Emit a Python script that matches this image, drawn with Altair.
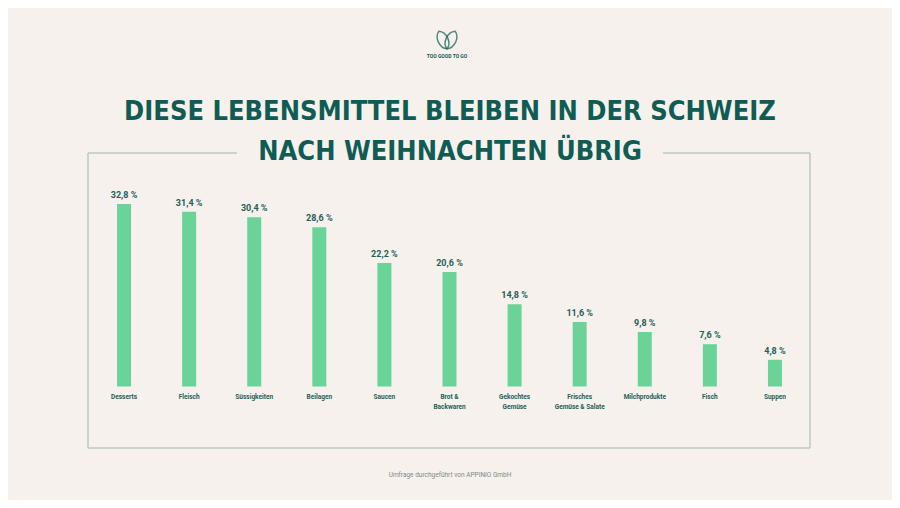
import altair as alt
import pandas as pd

categories = ["Desserts", "Fleisch", "Süssigkeiten", "Beilagen", "Saucen", "Brot &\nBackwaren",
              "Gekochtes\nGemüse", "Frisches\nGemüse & Salate", "Milchprodukte", "Fisch", "Suppen"]
values = [32.8, 31.4, 30.4, 28.6, 22.2, 20.6, 14.8, 11.6, 9.8, 7.6, 4.8]
value_labels = ["32,8 %", "31,4 %", "30,4 %", "28,6 %", "22,2 %", "20,6 %", "14,8 %", "11,6 %", "9,8 %", "7,6 %", "4,8 %"]
title_lines = ["DIESE LEBENSMITTEL BLEIBEN IN DER SCHWEIZ", "NACH WEIHNACHTEN ÜBRIG"]
source = "Umfrage durchgeführt von APPINIO GmbH"
logo_text = "TOO GOOD TO GO"

BG = "#f6f1ec"
TEAL = "#0f5c55"
LABEL = "#24605a"
GREEN = "#6cd398"
FRAME = "#bcc8c3"
W, H = 884, 492
OFF = 8  # page margin
TITLE_FONT = "'DejaVu Sans Condensed', 'Roboto Condensed', 'Liberation Sans Narrow', Roboto, sans-serif"

df = pd.DataFrame({"cat": categories, "val": values, "lab": value_labels})

xs = alt.X("cat:N", sort=categories, axis=None,
           scale=alt.Scale(domain=categories, range=[91.5 - OFF, 807.5 - OFF], paddingInner=0, paddingOuter=0))
ys = alt.Y("val:Q", axis=None, scale=alt.Scale(domain=[0, 32.8], range=[386.5 - OFF, 204 - OFF], nice=False, zero=True))

bars = alt.Chart(df).mark_bar(color=GREEN, size=14).encode(x=xs, y=ys)
vlabels = alt.Chart(df).mark_text(font="Roboto", fontWeight="bold", fontSize=9, color=LABEL, dy=-9).encode(
    x=xs, y=ys, text="lab:N")
clabels = alt.Chart(df).mark_text(font="Roboto", fontWeight="bold", fontSize=6.5, color=LABEL,
                                  baseline="top", lineBreak="\n", lineHeight=10).encode(
    x=xs, y=alt.value(393.5 - OFF), text="cat:N")

tdf = pd.DataFrame({"t": title_lines, "i": [0, 1]})
title = alt.Chart(tdf).mark_text(font=TITLE_FONT, fontWeight="bold", fontSize=27,
                                 color=TEAL, baseline="middle").encode(
    x=alt.value(450 - OFF),
    y=alt.Y("i:Q", axis=None, scale=alt.Scale(domain=[0, 1], range=[112 - OFF, 152 - OFF], nice=False, zero=False)),
    text="t:N")

src = alt.Chart(pd.DataFrame({"t": [source]})).mark_text(font="Roboto", fontSize=6.5, color="#7d8a88").encode(
    x=alt.value(450 - OFF), y=alt.value(475 - OFF), text="t:N")

logo_t = alt.Chart(pd.DataFrame({"t": [logo_text]})).mark_text(font="Roboto", fontWeight="bold", fontSize=5,
                                                                color=TEAL).encode(
    x=alt.value(447 - OFF), y=alt.value(56 - OFF), text="t:N")
LEAF = "M0,-1 C0.7,-0.6 0.7,0.6 0,1 C-0.7,0.6 -0.7,-0.6 0,-1 Z"
leaves = alt.Chart(pd.DataFrame({"a": [-25, 25], "px": [443 - OFF, 451 - OFF]})).mark_point(
    shape=LEAF, filled=False, strokeWidth=1.5, color=TEAL, size=380).encode(
    x=alt.X("px:Q", scale=None), y=alt.value(40 - OFF), angle=alt.Angle("a:Q", scale=None))

frame_segments = pd.DataFrame({
    "x1": [88, 810, 88, 88, 663],
    "x2": [88, 810, 810, 237, 810],
    "y1": [153, 153, 448, 153, 153],
    "y2": [448, 448, 448, 153, 153],
})
frame_segments = frame_segments - OFF
frame = alt.Chart(frame_segments).mark_rule(color=FRAME, strokeWidth=1.5).encode(
    x=alt.X("x1:Q", scale=None), x2="x2", y=alt.Y("y1:Q", scale=None), y2="y2")

chart = alt.layer(frame, bars, vlabels, clabels, title, src, logo_t, leaves).resolve_scale(
    y="independent", x="independent").properties(
    width=W, height=H, padding=0, autosize=alt.AutoSizeParams(type="none"), background=BG
).configure_view(stroke=None)

chart.save("out.html", embed_options={"renderer": "svg", "actions": False})
